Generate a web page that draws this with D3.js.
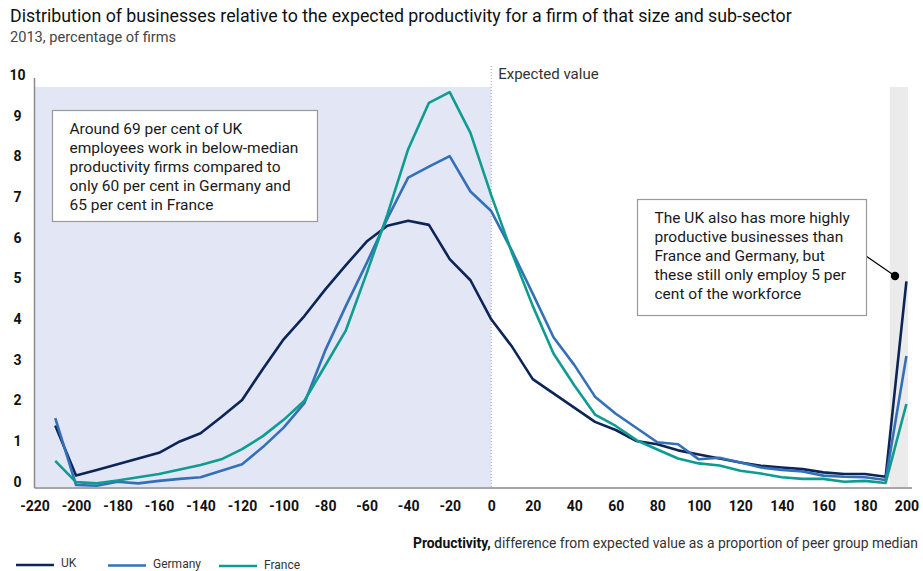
<!DOCTYPE html>
<html>
<head>
<meta charset="utf-8">
<script src="https://cdn.jsdelivr.net/npm/d3@7"></script>
<style>
  body { margin: 0; background: #fff; font-family: Roboto, "DejaVu Sans", sans-serif; }
  .axis text { font-family: Roboto, sans-serif; font-weight: bold; font-size: 14px; fill: #111; }
  .axis path { stroke: #8a8a8a; stroke-width: 1.5; }
</style>
</head>
<body>
<svg id="chart" width="923" height="571"></svg>
<script>
//data
const xValues = [-210,-200,-190,-180,-170,-160,-150,-140,-130,-120,-110,-100,-90,-80,-70,-60,-50,-40,-30,-20,-10,0,
                 10,20,30,40,50,60,70,80,90,100,110,120,130,140,150,160,170,180,190,200];
const ukValues = [1.51,0.28,0.42,0.56,0.7,0.84,1.12,1.32,1.72,2.14,2.9,3.63,4.2,4.85,5.45,6.03,6.42,6.54,6.44,5.6,5.08,4.12,
                  3.45,2.65,2.3,1.95,1.6,1.4,1.13,1.05,0.9,0.8,0.7,0.6,0.52,0.48,0.44,0.36,0.32,0.32,0.25,5.05];
const germanyValues = [1.69,0.05,0.03,0.13,0.09,0.15,0.2,0.24,0.4,0.56,0.98,1.46,2.06,3.35,4.45,5.5,6.6,7.6,7.87,8.13,7.26,6.78,
                  5.8,4.75,3.68,3.0,2.22,1.8,1.45,1.1,1.05,0.68,0.72,0.6,0.48,0.42,0.38,0.28,0.25,0.24,0.17,3.22];
const franceValues = [0.64,0.12,0.09,0.16,0.24,0.32,0.43,0.54,0.68,0.93,1.25,1.65,2.12,2.98,3.85,5.25,6.7,8.3,9.44,9.7,8.7,7.17,
                  5.75,4.45,3.28,2.5,1.78,1.5,1.15,0.92,0.7,0.58,0.53,0.4,0.33,0.24,0.2,0.2,0.13,0.15,0.1,2.04];
const xTicks = d3.range(-220, 201, 20);
const yTicks = d3.range(0, 11, 1);
const seriesNames = ["UK", "Germany", "France"];
const colours = ["#0c2557", "#3470b7", "#0e9c90"];

var svg = d3.select("#chart");

//scales
const x = d3.scaleLinear().domain([-220, 200]).range([34.5, 906.4]);
const y = d3.scaleLinear().domain([0, 10]).range([487, 80]);

//shaded areas
svg.append("rect")
  .attr("x", x(-220)).attr("y", y(9.83))
  .attr("width", x(0) - x(-220)).attr("height", y(0) - y(9.83))
  .style("fill", "#e3e6f4");
svg.append("rect")
  .attr("x", x(192)).attr("y", y(9.83))
  .attr("width", x(200.8) - x(192)).attr("height", y(0) - y(9.83))
  .style("fill", "#ebebeb");

//expected value line
svg.append("line")
  .attr("x1", x(0)).attr("x2", x(0))
  .attr("y1", 66).attr("y2", y(0))
  .style("stroke", "#aaa").style("stroke-width", 1)
  .style("stroke-dasharray", "1,2");
svg.append("text")
  .attr("x", x(0) + 7).attr("y", 79)
  .style("font-size", "15px").style("fill", "#333")
  .text("Expected value");

//axes
svg.append("g")
  .attr("class", "axis")
  .attr("transform", "translate(0," + (y(0) + 1) + ")")
  .call(d3.axisBottom(x).tickValues(xTicks).tickSize(0).tickPadding(13).tickFormat(d => String(d)))
  .call(g => g.select(".domain").attr("d", "M" + x(-220) + ",0H912"));

svg.append("g")
  .attr("class", "axis")
  .attr("transform", "translate(" + x(-220) + ",0)")
  .call(d3.axisLeft(y).tickValues(yTicks).tickSize(0).tickFormat(d => String(d)))
  .call(g => g.select(".domain").attr("d", "M0," + 78 + "V" + (y(0) + 1)))
  .call(g => g.selectAll("text").attr("text-anchor", "middle").attr("x", -17).attr("dy", "-0.05em"));

//lines
const line = d3.line()
  .x((d, i) => x(xValues[i]))
  .y(d => y(d));

[ukValues, germanyValues, franceValues].forEach(function(vals, i) {
  svg.append("path")
    .datum(vals)
    .attr("d", line)
    .style("fill", "none")
    .style("stroke", colours[i])
    .style("stroke-width", 2.6)
    .style("stroke-linejoin", "round");
});

//annotations
function noteBox(bx, by, bw, bh, lines) {
  svg.append("rect")
    .attr("x", bx).attr("y", by).attr("width", bw).attr("height", bh)
    .style("fill", "#fff").style("stroke", "#999").style("stroke-width", 1.2);
  let t = svg.append("text")
    .attr("x", bx + 17).attr("y", by + 23)
    .style("font-size", "15.5px").style("fill", "#1a1a1a");
  lines.forEach(function(l, i) {
    t.append("tspan").attr("x", bx + 17).attr("dy", i == 0 ? 0 : 19).text(l);
  });
}

noteBox(52.5, 110.5, 265, 111, [
  "Around 69 per cent of UK",
  "employees work in below-median",
  "productivity firms compared to",
  "only 60 per cent in Germany and",
  "65 per cent in France"]);

svg.append("line")
  .attr("x1", 866).attr("y1", 256).attr("x2", 895).attr("y2", 276)
  .style("stroke", "#000").style("stroke-width", 1.2);
svg.append("circle")
  .attr("cx", 895).attr("cy", 276).attr("r", 4.2)
  .style("fill", "#000");

noteBox(637.5, 199.5, 229, 116, [
  "The UK also has more highly",
  "productive businesses than",
  "France and Germany, but",
  "these still only employ 5 per",
  "cent of the workforce"]);

//titles
svg.append("text")
  .attr("x", 10).attr("y", 22)
  .style("font-size", "17.8px").style("fill", "#111")
  .text("Distribution of businesses relative to the expected productivity for a firm of that size and sub-sector");
svg.append("text")
  .attr("x", 10).attr("y", 42)
  .style("font-size", "14.6px").style("fill", "#444")
  .text("2013, percentage of firms");

let xt = svg.append("text")
  .attr("x", 918).attr("y", 548)
  .attr("text-anchor", "end")
  .style("font-size", "13.9px").style("fill", "#333");
xt.append("tspan").style("font-weight", "bold").style("fill", "#111").text("Productivity,");
xt.append("tspan").text(" difference from expected value as a proportion of peer group median");

//legend
const legendX = [16, 108, 219];
const legend = svg.selectAll(".legend")
  .data(seriesNames)
  .enter().append("g")
    .attr("class", "legend")
    .attr("transform", (d, i) => "translate(" + legendX[i] + ",0)");
legend.append("line")
  .attr("x1", 0).attr("x2", 38)
  .attr("y1", (d, i) => 565 + i * 0.5).attr("y2", (d, i) => 565 + i * 0.5)
  .style("stroke", (d, i) => colours[i]).style("stroke-width", 2.6);
legend.append("text")
  .attr("x", 45).attr("y", (d, i) => 567 + i * 1)
  .style("font-size", "12px").style("fill", "#333")
  .text(d => d);
</script>
</body>
</html>
